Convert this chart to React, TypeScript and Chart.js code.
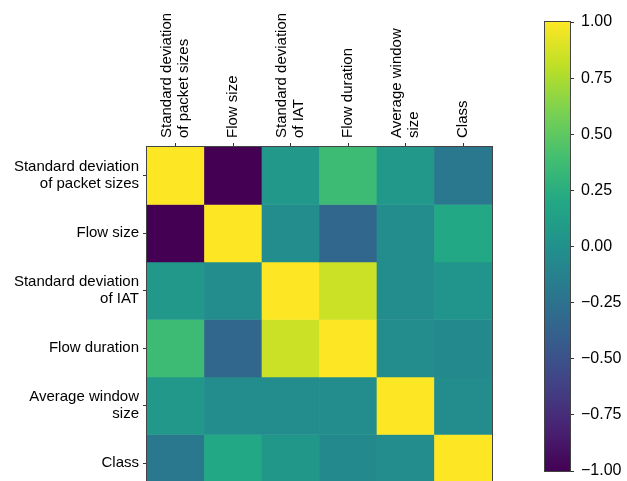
import React, { useEffect, useRef } from "react";
import { Chart, registerables } from "chart.js";

Chart.register(...registerables);

const xLabels: (string | string[])[] = [
  ["Standard deviation", "of packet sizes"],
  "Flow size",
  ["Standard deviation", "of IAT"],
  "Flow duration",
  ["Average window", "size"],
  "Class",
];
const yLabels: (string | string[])[] = [
  ["Standard deviation", "of packet sizes"],
  "Flow size",
  ["Standard deviation", "of IAT"],
  "Flow duration",
  ["Average window", "size"],
  "Class",
];

const row0 = [1.0, -1.0, 0.06, 0.36, 0.06, -0.2];
const row1 = [-1.0, 1.0, -0.04, -0.34, -0.04, 0.2];
const row2 = [0.06, -0.04, 1.0, 0.84, -0.04, 0.03];
const row3 = [0.36, -0.34, 0.84, 1.0, -0.04, -0.06];
const row4 = [0.06, -0.04, -0.04, -0.04, 1.0, -0.04];
const row5 = [-0.2, 0.2, 0.05, -0.06, -0.04, 1.0];
const rows = [row0, row1, row2, row3, row4, row5];

const colorbarTicks = [-1, -0.75, -0.5, -0.25, 0, 0.25, 0.5, 0.75, 1];

const VIRIDIS = [
  "#440154", "#482475", "#414487", "#355f8d", "#2a788e",
  "#21918c", "#22a884", "#44bf70", "#7ad151", "#bddf26", "#fde725",
];

function hexToRgb(h: string) {
  return [parseInt(h.slice(1, 3), 16), parseInt(h.slice(3, 5), 16), parseInt(h.slice(5, 7), 16)];
}

function viridis(v: number) {
  const t = Math.max(0, Math.min(1, (v + 1) / 2));
  const pos = t * (VIRIDIS.length - 1);
  const i = Math.min(VIRIDIS.length - 2, Math.floor(pos));
  const f = pos - i;
  const a = hexToRgb(VIRIDIS[i]);
  const b = hexToRgb(VIRIDIS[i + 1]);
  const c = a.map((x, k) => Math.round(x + (b[k] - x) * f));
  return `rgb(${c[0]},${c[1]},${c[2]})`;
}

const FONT = "'Liberation Sans', Arial, sans-serif";
const LABEL_SIZE = 15;
const LINE_PX = 17;

const frame = {
  id: "frame",
  afterDatasetsDraw(chart: any) {
    const { ctx, chartArea } = chart;
    ctx.save();
    ctx.strokeStyle = "#444";
    ctx.lineWidth = 1;
    ctx.strokeRect(
      Math.round(chartArea.left) - 0.5,
      Math.round(chartArea.top) - 0.5,
      Math.round(chartArea.right - chartArea.left) + 1,
      Math.round(chartArea.bottom - chartArea.top) + 1
    );
    ctx.restore();
  },
};

export default function App() {
  const heatRef = useRef<HTMLCanvasElement>(null);
  const barRef = useRef<HTMLCanvasElement>(null);

  useEffect(() => {
    Chart.defaults.font.family = FONT;
    Chart.defaults.color = "#000";

    const zeroPad = (s: any) => {
      s.paddingTop = 0;
      s.paddingBottom = 0;
      s.paddingLeft = 0;
      s.paddingRight = 0;
    };

    const heat = new Chart(heatRef.current!, {
      type: "bar",
      data: {
        labels: xLabels as any,
        datasets: rows.map((r, i) => ({
          label: "row" + i,
          data: r.map(() => [i, i + 1]) as any,
          backgroundColor: r.map((v) => viridis(v)),
          borderWidth: 0,
          barPercentage: 1,
          categoryPercentage: 1,
          grouped: false,
        })),
      },
      options: {
        responsive: false,
        animation: false,
        layout: { padding: { top: 0, right: 8, bottom: 1, left: 0 } },
        plugins: { legend: { display: false }, tooltip: { enabled: false } },
        scales: {
          x: {
            position: "top",
            offset: true,
            grid: { offset: false, drawOnChartArea: false, tickLength: 4, tickColor: "#333" },
            border: { display: false },
            ticks: {
              autoSkip: false,
              minRotation: 90,
              maxRotation: 90,
              padding: 5,
              labelOffset: LINE_PX * 1.5,
              font: (c: any) => {
                const lab = xLabels[c.index];
                const multi = Array.isArray(lab);
                return {
                  size: LABEL_SIZE,
                  family: FONT,
                  lineHeight: (multi ? LINE_PX : LINE_PX * 1.5) + "px",
                };
              },
              color: "#000",
            },
            afterFit: (s: any) => {
              s.height = 147;
              zeroPad(s);
            },
          },
          y: {
            type: "linear",
            min: 0,
            max: 6,
            reverse: true,
            grid: { drawOnChartArea: false, tickLength: 4, tickColor: "#333" },
            border: { display: false },
            afterBuildTicks: (s: any) => {
              s.ticks = yLabels.map((_, i) => ({ value: i + 0.5 }));
            },
            ticks: {
              padding: 4,
              font: { size: LABEL_SIZE, family: FONT, lineHeight: LINE_PX + "px" },
              color: "#000",
              callback: (v: any) => yLabels[Math.floor(Number(v))] as any,
            },
            afterFit: (s: any) => {
              s.width = 147;
              zeroPad(s);
            },
          },
        },
      },
      plugins: [frame],
    });

    const cbar = new Chart(barRef.current!, {
      type: "bar",
      data: {
        labels: ["cb"],
        datasets: [
          {
            label: "colorbar",
            data: [[colorbarTicks[0], colorbarTicks[colorbarTicks.length - 1]]] as any,
            backgroundColor: (c: any) => {
              const { chart } = c;
              const area = chart.chartArea;
              if (!area) return VIRIDIS[5];
              const g = chart.ctx.createLinearGradient(0, area.bottom, 0, area.top);
              VIRIDIS.forEach((col, i) => g.addColorStop(i / (VIRIDIS.length - 1), col));
              return g;
            },
            borderWidth: 0,
            barPercentage: 1,
            categoryPercentage: 1,
          },
        ],
      },
      options: {
        responsive: false,
        animation: false,
        layout: { padding: { top: 22, right: 0, bottom: 10, left: 25 } },
        plugins: { legend: { display: false }, tooltip: { enabled: false } },
        scales: {
          x: { display: false },
          y: {
            position: "right",
            min: -1,
            max: 1,
            grid: { drawOnChartArea: false, tickLength: 4, tickColor: "#333" },
            border: { display: false },
            afterBuildTicks: (s: any) => {
              s.ticks = colorbarTicks.map((v) => ({ value: v }));
            },
            ticks: {
              padding: 7,
              font: { size: 16, family: FONT },
              color: "#000",
              callback: (v: any) => Number(v).toFixed(2).replace("-", "\u2212"),
            },
            afterFit: (s: any) => {
              s.width = 57;
              zeroPad(s);
            },
          },
        },
      },
      plugins: [frame],
    });

    return () => {
      heat.destroy();
      cbar.destroy();
    };
  }, []);

  return (
    <div
      style={{
        position: "absolute",
        left: 0,
        top: 0,
        width: 627,
        height: 481,
        overflow: "hidden",
        background: "#fff",
      }}
    >
      <canvas ref={heatRef} width={500} height={493} style={{ position: "absolute", left: 0, top: 0 }} />
      <canvas ref={barRef} width={107} height={481} style={{ position: "absolute", left: 520, top: 0 }} />
    </div>
  );
}
